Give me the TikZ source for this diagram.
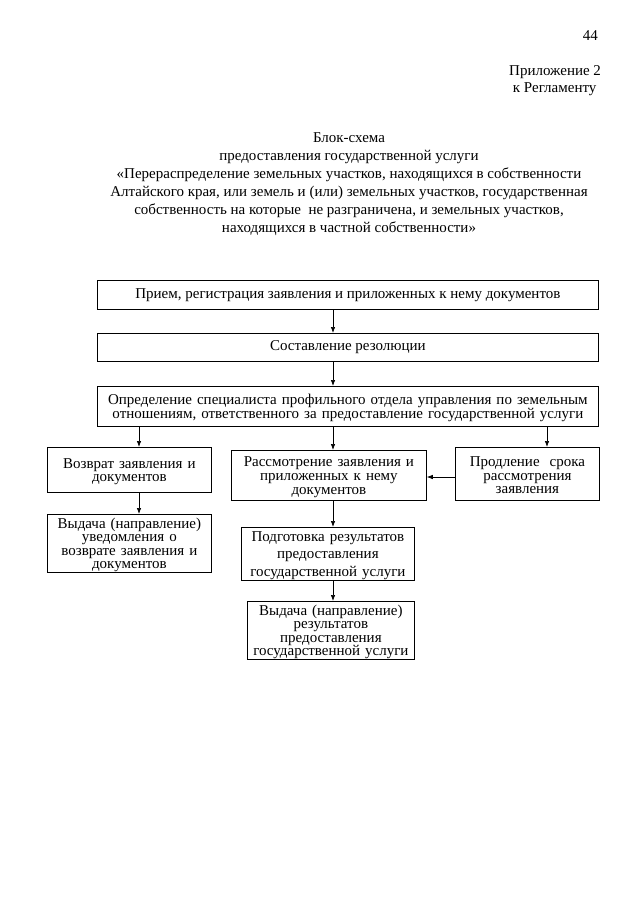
\documentclass[tikz,border=0pt]{standalone}
\usepackage{fontspec}
\setmainfont{Liberation Serif}
\usetikzlibrary{arrows.meta}
\newcommand\myTight{\lineskiplimit=-20pt\relax}
\begin{document}
\begin{tikzpicture}[x=1pt,y=-1pt,
  box/.style={draw, line width=0.8pt, rectangle, anchor=north west, align=center, inner xsep=1pt, inner ysep=0.5pt,
    font=\fontsize{15}{13.5}\selectfont\myTight},
  mbox/.style={box, text height=13pt},
  arr/.style={line width=0.7pt, -{Latex[length=6pt,width=4.5pt]}},
  ttl/.style={font=\fontsize{15}{18}\selectfont, align=center, inner sep=0pt}]
\useasboundingbox (0,0) rectangle (640,905);
\node[font=\fontsize{15}{18}\selectfont, anchor=base east, inner sep=0pt] (pg) at (598,40) {44};
\node[font=\fontsize{15}{17}\selectfont, anchor=north west, align=left, inner sep=0pt] (app) at (509,65) {Приложение 2\\\ к Регламенту};
\node[ttl, anchor=north] (title) at (349,132) {Блок-схема\\
 предоставления государственной услуги\\
«Перераспределение земельных участков, находящихся в собственности\\
Алтайского края, или земель и (или) земельных участков, государственная\\
собственность на которые\ \ не разграничена, и земельных участков,\\
находящихся в частной собственности»};
\node[box, minimum width=501pt, minimum height=29pt] (b1) at (97,280) {Прием, регистрация заявления и приложенных к нему документов};
\node[box, minimum width=501pt, minimum height=28pt] (b2) at (97,333) {Составление резолюции};
\node[mbox, minimum width=501pt, minimum height=40pt, text width=495pt] (b3) at (97,386) {Определение специалиста профильного отдела управления по земельным отношениям, ответственного за предоставление государственной услуги};
\node[mbox, minimum width=164pt, minimum height=45pt, text width=160pt] (b4) at (47,447) {Возврат заявления и\\документов\\[12pt]};
\node[mbox, minimum width=164pt, minimum height=58pt, text width=160pt] (b5) at (47,514) {Выдача (направление)\\уведомления о\\возврате заявления и\\документов};
\node[mbox, minimum width=195pt, minimum height=50pt, text width=190pt, font=\fontsize{15}{14}\selectfont\myTight] (b6) at (231,450) {Рассмотрение заявления и\\приложенных к нему\\документов};
\node[mbox, minimum width=144pt, minimum height=53pt, text width=140pt] (b7) at (455,447) {Продление\ \ срока\\рассмотрения\\заявления};
\node[mbox, minimum width=173pt, minimum height=53pt, text width=170pt, font=\fontsize{15}{17.5}\selectfont] (b8) at (241,527) {Подготовка результатов\\предоставления\\государственной услуги};
\node[mbox, minimum width=167pt, minimum height=58pt, text width=163pt] (b9) at (247,601) {Выдача (направление)\\результатов\\предоставления\\государственной услуги};
\draw[arr] (b1.south -| 333,0) -- (b2.north -| 333,0);
\draw[arr] (b2.south -| 333,0) -- (b3.north -| 333,0);
\draw[arr] (b3.south -| 139,0) -- (b4.north -| 139,0);
\draw[arr] (b3.south -| 333,0) -- (b6.north -| 333,0);
\draw[arr] (b3.south -| 547,0) -- (b7.north -| 547,0);
\draw[arr] (b4.south -| 139,0) -- (b5.north -| 139,0);
\draw[arr] (b7.west |- 0,477) -- (b6.east |- 0,477);
\draw[arr] (b6.south -| 333,0) -- (b8.north -| 333,0);
\draw[arr] (b8.south -| 333,0) -- (b9.north -| 333,0);
\end{tikzpicture}
\end{document}
